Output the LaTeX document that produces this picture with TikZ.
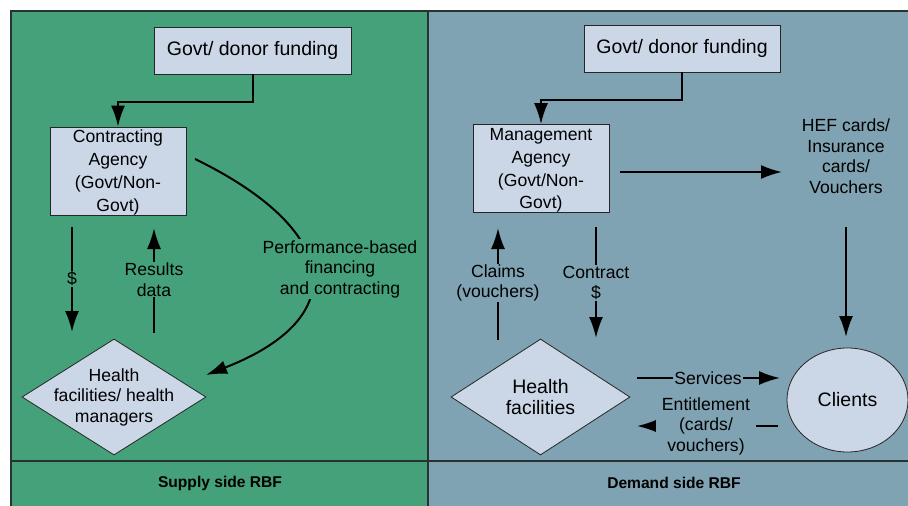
\documentclass[tikz,border=0pt]{standalone}
\usepackage{fontspec}
\setmainfont{Liberation Sans}
\usetikzlibrary{arrows.meta, shapes.geometric}

\definecolor{vertRBF}{RGB}{69,161,122}
\definecolor{bleuRBF}{RGB}{127,163,178}
\definecolor{fondboite}{RGB}{203,215,230}
\definecolor{bord}{RGB}{40,50,50}

\newcommand{\haut}{\rule{0pt}{15.9pt}}% premiere ligne un peu plus basse

\tikzset{
  cadre/.style={draw=bord, line width=1.1pt},
  boite/.style={draw=black!85, line width=0.8pt, fill=fondboite, align=center, inner sep=0pt},
  grand/.style={font=\fontsize{19.5}{21}\selectfont},
  moyen/.style={font=\fontsize{17.6}{22.8}\selectfont},
  etiq/.style={align=center, inner sep=1pt, font=\fontsize{17.6}{20.5}\selectfont},
  losange/.style={diamond, draw=black!85, line width=0.8pt, fill=fondboite, inner sep=0pt, aspect=1.59},
  fleche/.style={line width=2pt, -{Latex[length=21pt,width=14pt]}},
  pied/.style={font=\fontsize{15.6}{18}\selectfont\bfseries},
}

\begin{document}
\begin{tikzpicture}[x=1pt,y=-1pt]
\useasboundingbox (0,0) rectangle (908,506);
\color{black}

% les deux panneaux
\draw[cadre, fill=vertRBF] (11,11) rectangle (428,512);
\draw[cadre, fill=bleuRBF] (428,11) rectangle (914,512);
\draw[cadre] (11,461) -- (428,461) -- (914,461);
\node[pied] (supply) at (220,483) {Supply side RBF};
\node[pied] (demand) at (674,483) {Demand side RBF};

%%%% cote offre
\node[boite, grand, minimum width=197pt, minimum height=47pt] (govL) at (252.5,50.5) {Govt/ donor funding};
\node[boite, moyen, minimum width=136pt, minimum height=88pt] (agL) at (118,171) {\haut Contracting\\Agency\\(Govt/Non-\\Govt)};
\node[losange, minimum width=184pt, minimum height=116pt,
  label={[etiq]center:{Health\\facilities/ health\\managers}}] (hfL) at (114,397) {};

\draw[fleche] (govL.south) -- ++(0,28) -| (agL.north);

\coordinate (dolA) at (72,227);
\coordinate (dolB) at (72,332);
\draw[fleche] (dolA) -- (dolB);
\node[etiq, fill=vertRBF] (dol) at (72,279) {\$};

\coordinate (resA) at (154,333);
\coordinate (resB) at (154,228);
\draw[fleche] (resA) -- (resB);
\node[etiq, fill=vertRBF] (res) at (154,279.5) {Results\\data};

\coordinate (pbfA) at (195,159);
\coordinate (pbfB) at (206,375);
\draw[fleche] (pbfA) .. controls (339,229) and (355,317) .. (pbfB);%la courbe
\node[etiq, fill=vertRBF] (pbf) at (340,269) {Performance-based\\financing\\and contracting};

%%%% cote demande
\node[boite, grand, minimum width=196pt, minimum height=47pt] (govR) at (682,48.5) {Govt/ donor funding};
\node[boite, moyen, minimum width=136pt, minimum height=87pt] (mgR) at (541,168.5) {\haut Management\\Agency\\(Govt/Non-\\Govt)};
\node[losange, minimum width=179pt, minimum height=116pt,
  label={[align=center, inner sep=0pt, font=\fontsize{19.5}{21}\selectfont]center:{Health\\facilities}}] (hfR) at (540.5,397) {};
\node[ellipse, draw=black!85, line width=0.8pt, fill=fondboite, grand, inner sep=0pt,
  minimum width=121pt, minimum height=104pt] (cli) at (847.5,400) {Clients};
\node[etiq] (hef) at (846,156) {HEF cards/\\Insurance\\cards/\\Vouchers};

\draw[fleche] (govR.south) -- ++(0,28) -| (mgR.north);

\coordinate (carA) at (620,172);
\coordinate (carB) at (782,172);
\draw[fleche] (carA) -- (carB);

\coordinate (hefA) at (846,227);
\coordinate (hefB) at (846,337);
\draw[fleche] (hefA) -- (hefB);

\coordinate (clmA) at (498,340);
\coordinate (clmB) at (498,228);
\draw[fleche] (clmA) -- (clmB);
\node[etiq, fill=bleuRBF] (clm) at (498,283) {Claims\\(vouchers)};

\coordinate (ctrA) at (596,227);
\coordinate (ctrB) at (596,338);
\draw[fleche] (ctrA) -- (ctrB);
\node[etiq, fill=bleuRBF] (ctr) at (596,283) {Contract\\\$};

\coordinate (srvA) at (637,378);
\coordinate (srvB) at (780,378);
\draw[fleche] (srvA) -- (srvB);
\node[etiq, fill=bleuRBF] (srv) at (708,378) {Services};

\coordinate (entA) at (778,426);
\coordinate (entB) at (637,426);
\draw[fleche] (entA) -- (entB);
\node[etiq, fill=bleuRBF, inner xsep=6pt] (ent) at (706,426) {Entitlement\\(cards/\\vouchers)};

\end{tikzpicture}
\end{document}
